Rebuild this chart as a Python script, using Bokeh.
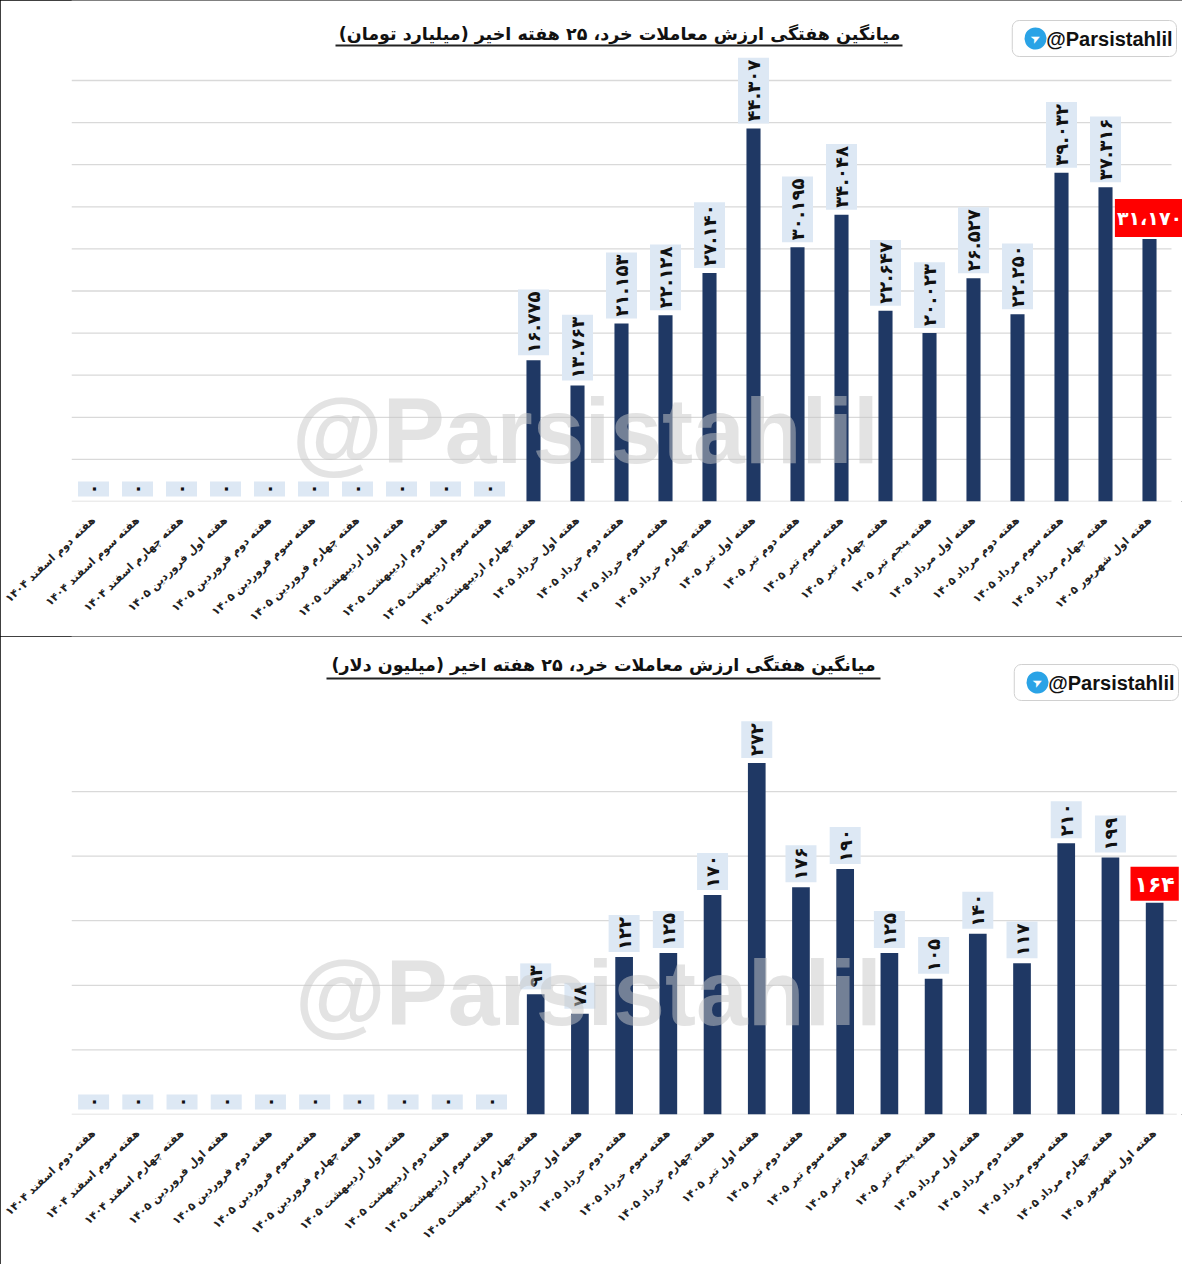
import math
from bokeh.plotting import figure
from bokeh.models import Range1d, FixedTicker, Label, BoxAnnotation, ColumnDataSource
from bokeh.layouts import column
from bokeh.embed import file_html
from bokeh.resources import INLINE
from bokeh.core.properties import value

# ---------------- data ----------------
weeks = [
    "هفته دوم اسفند ۱۴۰۴",
    "هفته سوم اسفند ۱۴۰۴",
    "هفته چهارم اسفند ۱۴۰۴",
    "هفته اول فروردین ۱۴۰۵",
    "هفته دوم فروردین ۱۴۰۵",
    "هفته سوم فروردین ۱۴۰۵",
    "هفته چهارم فروردین ۱۴۰۵",
    "هفته اول اردیبهشت ۱۴۰۵",
    "هفته دوم اردیبهشت ۱۴۰۵",
    "هفته سوم اردیبهشت ۱۴۰۵",
    "هفته چهارم اردیبهشت ۱۴۰۵",
    "هفته اول خرداد ۱۴۰۵",
    "هفته دوم خرداد ۱۴۰۵",
    "هفته سوم خرداد ۱۴۰۵",
    "هفته چهارم خرداد ۱۴۰۵",
    "هفته اول تیر ۱۴۰۵",
    "هفته دوم تیر ۱۴۰۵",
    "هفته سوم تیر ۱۴۰۵",
    "هفته چهارم تیر ۱۴۰۵",
    "هفته پنجم تیر ۱۴۰۵",
    "هفته اول مرداد ۱۴۰۵",
    "هفته دوم مرداد ۱۴۰۵",
    "هفته سوم مرداد ۱۴۰۵",
    "هفته چهارم مرداد ۱۴۰۵",
    "هفته اول شهریور ۱۴۰۵",
]

# billion toman
toman = [0, 0, 0, 0, 0, 0, 0, 0, 0, 0,
         16.775, 13.763, 21.153, 22.128, 27.140, 44.307, 30.195, 34.048,
         22.647, 20.023, 26.527, 22.250, 39.032, 37.316, 31.170]

# million dollars
dollar = [0, 0, 0, 0, 0, 0, 0, 0, 0, 0,
          93, 78, 122, 125, 170, 272, 176, 190,
          125, 105, 140, 117, 210, 199, 164]

ticks_toman = [0, 5, 10, 15, 20, 25, 30, 35, 40, 45, 50]
ticks_dollar = [0, 50, 100, 150, 200, 250]

title_toman = "میانگین هفتگی ارزش معاملات خرد، ۲۵ هفته اخیر (میلیارد تومان)"
title_dollar = "میانگین هفتگی ارزش معاملات خرد، ۲۵ هفته اخیر (میلیون دلار)"
brand = "@Parsistahlil"

FA = str.maketrans("0123456789", "۰۱۲۳۴۵۶۷۸۹")


def fa(s):
    return s.translate(FA)


FONT = value("DejaVu Sans")
BAR = "#1f3864"
BOXBLUE = "#dde8f4"
xs = list(range(len(weeks)))


def make_panel(vals, labels, last_label, ticks, ymax, title, geo):
    W, H = 1182, geo["H"]
    p = figure(width=W, height=H, x_range=Range1d(-0.5, geo["xend"]),
               y_range=Range1d(0, ymax), output_backend="svg", toolbar_location=None,
               min_border_left=geo["left"], min_border_right=0,
               min_border_top=0, min_border_bottom=geo["bottom"])
    p.styles = {"outline": "1px solid black", "outline-offset": "-1px"}
    p.outline_line_color = None
    p.background_fill_color = "white"
    p.border_fill_color = "white"
    p.yaxis.visible = False
    p.xgrid.visible = False
    p.ygrid.visible = False

    # horizontal gridlines across the category span only
    gsrc = ColumnDataSource(dict(y=ticks, x0=[-0.5] * len(ticks),
                                 x1=[len(weeks) - 0.5] * len(ticks)))
    p.segment(x0="x0", x1="x1", y0="y", y1="y", source=gsrc,
              line_color="#d9d9d9", line_width=1.3)

    ax = p.xaxis[0]
    ax.ticker = FixedTicker(ticks=xs)
    ax.major_label_overrides = {i: w for i, w in zip(xs, weeks)}
    ax.axis_line_color = None
    ax.major_tick_line_color = None
    ax.minor_tick_line_color = None
    ax.major_label_orientation = 0.76
    ax.major_label_text_font = "DejaVu Sans"
    ax.major_label_text_font_style = "bold"
    ax.major_label_text_font_size = "11px"
    ax.major_label_text_color = "#222222"
    ax.major_label_standoff = 11

    src = ColumnDataSource(dict(x=xs, val=vals))
    p.vbar(x="x", top="val", width=geo["barw"], source=src,
           fill_color=BAR, line_color=None)

    lsrc = ColumnDataSource(dict(x=xs[:-1], val=vals[:-1], lab=labels[:-1]))
    p.text(x="x", y="val", text="lab", source=lsrc, angle=math.pi / 2,
           text_align="left", text_baseline="middle", y_offset=-5,
           text_font=FONT, text_font_style="bold", text_font_size="18px",
           text_color="#111111", background_fill_color=BOXBLUE,
           padding=(2, 2, 5, 5))

    # highlighted latest value (padding order: left, right, top, bottom)
    p.add_layout(Label(x=xs[-1], y=vals[-1], text=last_label,
                       text_align="center", text_baseline="bottom", y_offset=2,
                       text_font="DejaVu Sans", text_font_style="bold",
                       text_font_size=geo["red_fs"], text_color="white",
                       background_fill_color="#ff0000", padding=geo["red_pad"]))

    # watermark
    p.add_layout(Label(x=geo["wm_x"], y=geo["wm_y"], x_units="screen", y_units="screen",
                       text=brand, text_align="center", text_baseline="middle",
                       text_font="Liberation Sans", text_font_style="bold",
                       text_font_size="93px", text_color="#c8c8c8", text_alpha=0.5,
                       level="overlay"))

    # title + underline
    p.add_layout(Label(x=geo["t_x"], y=geo["t_y"], x_units="screen", y_units="screen",
                       text=title, text_align="center", text_baseline="middle",
                       text_font="DejaVu Sans", text_font_style="bold",
                       text_font_size="17.5px", text_color="#111111"))
    p.add_layout(BoxAnnotation(left=geo["u_l"], right=geo["u_r"],
                               bottom=geo["u_y"] - 1, top=geo["u_y"] + 1,
                               left_units="screen", right_units="screen",
                               bottom_units="screen", top_units="screen",
                               fill_color="#222222", fill_alpha=1, line_color=None))

    # telegram badge
    bx, by = geo["b_x"], geo["b_y"]
    pad = (34, 4, 7, 7)
    p.add_layout(Label(x=bx + 2, y=by - 3, x_units="screen", y_units="screen",
                       text=brand, text_align="right", text_baseline="middle",
                       text_font="Liberation Sans", text_font_style="bold",
                       text_font_size="20px", text_alpha=0,
                       background_fill_color="#9a9a9a", background_fill_alpha=0.55,
                       border_radius=7, padding=pad))
    p.add_layout(Label(x=bx, y=by, x_units="screen", y_units="screen",
                       text=brand, text_align="right", text_baseline="middle",
                       text_font="Liberation Sans", text_font_style="bold",
                       text_font_size="20px", text_color="#111111",
                       background_fill_color="white", border_line_color="#d0d0d0",
                       border_radius=7, padding=pad))
    p.add_layout(Label(x=geo["i_x"], y=geo["i_y"], x_units="screen", y_units="screen",
                       text="➤", text_align="center", text_baseline="middle",
                       text_font="DejaVu Sans", text_font_size="12px", text_color="white",
                       angle=0.45,
                       background_fill_color="#2aa3e6", border_radius=11,
                       padding=(6, 6, 4, 4)))
    return p


lab_toman = [fa("0") if v == 0 else fa(f"{v:.3f}") for v in toman]
last_toman = fa(f"{toman[-1]:.3f}").replace(".", "،")
lab_dollar = [fa(str(v)) for v in dollar]
last_dollar = fa(str(dollar[-1]))

geo1 = dict(H=636, left=71, bottom=135, barw=0.32, xend=24.75,
            wm_x=514, wm_y=71, t_x=548, t_y=468, u_l=264, u_r=831, u_y=456,
            b_x=1105, b_y=463, i_x=964, i_y=463,
            red_fs="19px", red_pad=(2, 2, 8, 8))
geo2 = dict(H=628, left=68, bottom=150, barw=0.40, xend=24.63,
            wm_x=517, wm_y=122, t_x=532, t_y=450, u_l=255, u_r=809, u_y=436,
            b_x=1107, b_y=432, i_x=966, i_y=432,
            red_fs="22px", red_pad=(4, 4, 5, 4))

p1 = make_panel(toman, lab_toman, last_toman, ticks_toman, 59.5, title_toman, geo1)
p2 = make_panel(dollar, lab_dollar, last_dollar, ticks_dollar, 370.0, title_dollar, geo2)

layout = column(p1, p2, spacing=0)
open("out.html", "w").write(file_html(layout, INLINE))
